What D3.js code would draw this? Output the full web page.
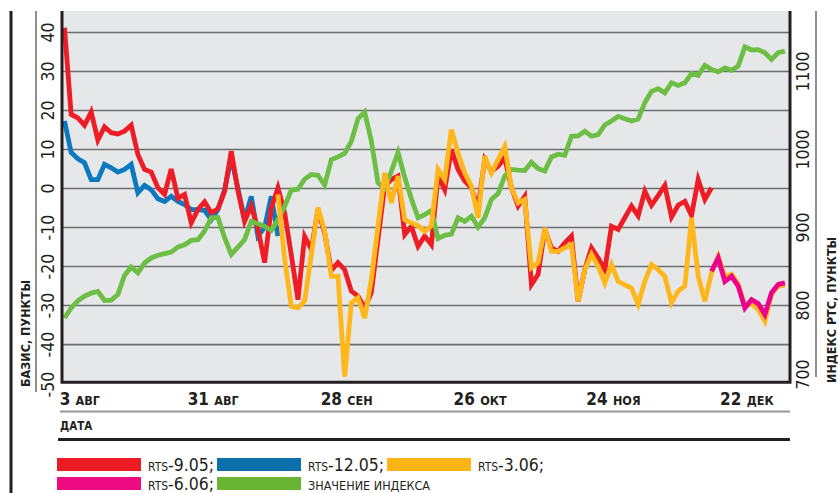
<!DOCTYPE html>
<html><head><meta charset="utf-8">
<script src="https://cdn.jsdelivr.net/npm/d3@7"></script>
<style>html,body{margin:0;padding:0;background:#fff;}svg{display:block}</style>
</head><body><svg id="c" width="838" height="493"></svg>
<script>
// ---- data ----
const tickIndex = [2, 22, 42, 62, 82, 102];
const tickDay = ["3", "31", "28", "26", "24", "22"];
const tickMonth = ["АВГ", "АВГ", "СЕН", "ОКТ", "НОЯ", "ДЕК"];
const leftTicks = [-50, -40, -30, -20, -10, 0, 10, 20, 30, 40];
const rightTicks = [700, 800, 900, 1000, 1100];

const rts905Start = 0;
const rts905 = [41.2, 19.0, 18.1, 16.2, 19.6, 12.4, 15.8, 14.3, 14.0, 14.7,
  16.2, 8.7, 4.9, 4.2, 0.2, -1.5, 5.0, -2.5, -1.5, -8.8,
  -5.4, -3.4, -6.2, -5.2, -0.7, 9.6, -0.5, -8.4, -4.5, -10.3,
  -19, -5, 0.2, -6.2, -17, -28.5, -12.3, -15.6, -5.4, -11.4,
  -21, -19, -20.8, -26.3, -27.6, -30.6, -26.7, -13, 0.6, 2.3,
  3.2, -11.8, -9.7, -14.8, -12.2, -14.4, 3.2, -0.3, 10, 4.9,
  1.9, 0.2, -4.9, 7.4, 4.4, 5.7, 7.9, 0.2, -4.5, -2,
  -24.6, -22, -10.5, -15.2, -16.1, -13.9, -12.2, -28.9, -20.8, -15.2,
  -17.8, -20.8, -9.7, -10.5, -7.5, -4.5, -7, -0.7, -4.3, -1.8,
  0.8, -7.3, -4.3, -3.3, -6.9, 2.3, -2.8, 0.2];

const rts1205Start = 0;
const rts1205 = [17.3, 9.2, 7.6, 6.6, 2.3, 2.3, 6.2, 5.3, 4.2, 4.9,
  6.2, -1.1, 0.8, -0.3, -2.6, -3.3, -2.0, -3.3, -4.1, -5.4,
  -5.4, -5.6, -8, -5.4, -0.3, 7.9, 0, -8, -2, -12.2,
  -10, -2, -12.2];

const rts306Start = 32;
const rts306 = [-1.5, -18, -30.2, -30.6, -28.8, -17, -4.9, -10.9, -22.5, -22.5,
  -48.2, -29.3, -28, -33.2, -23.3, -9.7, 4, -3.7, 3.2, -8,
  -8.8, -9.5, -11, -9.5, 4.9, 2.3, 15.1, 9.2, 4, 0.6,
  -7.5, 8.3, 4, 7.4, 10.8, 0.2, -3.7, -2.8, -20.3, -19,
  -10.1, -16.1, -16.1, -15.2, -14.4, -28.9, -20.8, -16.9, -19.9, -24.2,
  -19.5, -23.8, -24.7, -25.5, -29.7, -23.8, -19.5, -20.8, -22.5, -29.3,
  -26.3, -25, -7.5, -22.5, -28.9, -21.6, -17.4, -22.5, -22, -24.5,
  -30, -29.5, -31, -34, -27, -25, -24.8];

const rts606Start = 97;
const rts606 = [-21.2, -17.8, -23.8, -22.5, -25, -30.6, -28.5, -29.5, -32.3, -26.7, -24.6, -24.2];

const indexStart = 0;
const indexRTS = [784, 797, 806, 812, 816, 818, 806.5, 807, 814, 838.5,
  849.5, 842, 854.5, 861, 864.5, 866.5, 868.5, 875, 878, 883.5,
  884.5, 895.5, 912.5, 913, 887, 865.5, 875, 884.5, 908, 905,
  901.5, 896.5, 910, 927, 948, 949, 962, 968, 967, 954.5,
  987, 990.5, 995, 1010.5, 1039.5, 1048, 1011, 957.5, 950, 972,
  996, 964.5, 937, 912.5, 916.5, 922, 886, 890, 891.5, 912.5,
  908, 914.5, 900.5, 912.5, 936, 943.5, 966, 974.5, 973.5, 973,
  983.5, 975.5, 972.5, 990.5, 994, 992.5, 1017, 1017.5, 1023.5, 1017,
  1019, 1031.5, 1036.5, 1042.5, 1039.5, 1036.5, 1039, 1060, 1074.5, 1078,
  1072.5, 1085.5, 1082, 1085.5, 1097.5, 1095, 1108, 1102.5, 1099.5, 1104.5,
  1101.5, 1107, 1131.5, 1127.5, 1128, 1124, 1115.5, 1124, 1126];

const legendItems = [
  {pre: "RTS", txt: "-9.05;", color: "#ec1c24"},
  {pre: "RTS", txt: "-12.05;", color: "#0c6fab"},
  {pre: "RTS", txt: "-3.06;", color: "#fdb415"},
  {pre: "RTS", txt: "-6.06;", color: "#ec0b80"},
  {pre: "", txt: "ЗНАЧЕНИЕ ИНДЕКСА", color: "#69b533"}
];

// ---- drawing ----
const FONT = "'Liberation Sans Narrow','DejaVu Sans Condensed','Arial Narrow',sans-serif";
const INK = "#231f20";
const svg = d3.select("#c");
const L = 62, R = 790, T = 11, B = 383.6;

const x = d3.scaleLinear().domain([0, 108]).range([64.5, 784.9]);
const yL = d3.scaleLinear().domain([-50, 45.5]).range([B, T]);
const yR = d3.scaleLinear().domain([700, 1177.5]).range([B, T]);

// outer frame lines
svg.append("line").attr("x1", 11).attr("x2", 11).attr("y1", 11).attr("y2", 493)
  .attr("stroke", INK).attr("stroke-width", 3);
svg.append("line").attr("x1", 36).attr("x2", 36).attr("y1", 11).attr("y2", 392)
  .attr("stroke", INK).attr("stroke-width", 1);
svg.append("line").attr("x1", 816).attr("x2", 816).attr("y1", 11).attr("y2", 377)
  .attr("stroke", INK).attr("stroke-width", 1);

// plot background
svg.append("rect").attr("x", L).attr("y", T).attr("width", R - L).attr("height", B - T)
  .attr("fill", "#e6e7e8");

// gridlines
svg.append("g").selectAll("line").data(leftTicks.filter(d => d > -50)).join("line")
  .attr("x1", L).attr("x2", R)
  .attr("y1", d => yL(d)).attr("y2", d => yL(d))
  .attr("stroke", "#6d6e71").attr("stroke-width", 1.6);

// series
function series(vals, start) { return vals.map((v, k) => ({i: start + k, v})); }
const lineL = d3.line().x(d => x(d.i)).y(d => yL(d.v));
const lineR = d3.line().x(d => x(d.i)).y(d => yR(d.v));
const g = svg.append("g").attr("fill", "none").attr("stroke-width", 4.8).attr("stroke-linejoin", "miter");
g.append("path").attr("d", lineL(series(rts1205, rts1205Start))).attr("stroke", "#0b78bf");
g.append("path").attr("d", lineL(series(rts905, rts905Start))).attr("stroke", "#ee1c25");
g.append("path").attr("d", lineR(series(indexRTS, indexStart))).attr("stroke", "#6dbe45");
g.append("path").attr("d", lineL(series(rts306, rts306Start))).attr("stroke", "#ffb71b");
g.append("path").attr("d", lineL(series(rts606, rts606Start))).attr("stroke", "#ec008c");

// border
svg.append("path").attr("d", `M${L},${T}V382.3H${R}V${T}`).attr("fill", "none")
  .attr("stroke", INK).attr("stroke-width", 3);

// left tick labels
svg.append("g").selectAll("text").data(leftTicks).join("text")
  .attr("transform", d => `translate(48,${d === -50 ? yL(d) + 1 : yL(d)}) rotate(-90)`)
  .attr("text-anchor", "middle").attr("dy", "0.36em")
  .attr("font-family", FONT).attr("font-size", 17.5).attr("fill", INK)
  .text(d => d);

// right tick labels
svg.append("g").selectAll("text").data(rightTicks).join("text")
  .attr("transform", d => `translate(803,${d === 700 ? yR(d) - 9 : yR(d)}) rotate(-90)`)
  .attr("text-anchor", "middle").attr("dy", "0.36em")
  .attr("font-family", FONT).attr("font-size", 17.5).attr("fill", INK)
  .text(d => d);

// axis titles
svg.append("text").attr("transform", "translate(25,387) rotate(-90)")
  .attr("dy", "0.36em").attr("font-family", FONT).attr("font-weight", "bold")
  .attr("font-size", 12.5).attr("fill", INK).text("БАЗИС, ПУНКТЫ");
svg.append("text").attr("transform", "translate(831,383) rotate(-90)")
  .attr("dy", "0.36em").attr("font-family", FONT).attr("font-weight", "bold")
  .attr("font-size", 12.5).attr("fill", INK).text("ИНДЕКС РТС, ПУНКТЫ");

// x tick labels
const xt = svg.append("g").selectAll("text").data(tickIndex).join("text")
  .attr("x", d => x(d) + 2).attr("y", 405).attr("text-anchor", "middle")
  .attr("font-family", FONT).attr("font-weight", "bold").attr("fill", INK);
xt.append("tspan").attr("font-size", 17).text((d, k) => tickDay[k] + " ");
xt.append("tspan").attr("font-size", 12.5).text((d, k) => tickMonth[k]);

// date rule
svg.append("line").attr("x1", 60).attr("x2", R).attr("y1", 411.5).attr("y2", 411.5)
  .attr("stroke", "#939598").attr("stroke-width", 2);
svg.append("text").attr("x", 60).attr("y", 430).attr("font-family", FONT)
  .attr("font-weight", "bold").attr("font-size", 11.5).attr("fill", INK).text("ДАТА");
svg.append("line").attr("x1", 58).attr("x2", R).attr("y1", 439.5).attr("y2", 439.5)
  .attr("stroke", INK).attr("stroke-width", 3);

// legend
const legPos = [[57, 458, 471], [217, 458, 471], [387, 458, 471], [57, 477, 489.5], [217, 477, 489.5]];
legendItems.forEach((it, k) => {
  const [lx, ly, by] = legPos[k];
  svg.append("rect").attr("x", lx).attr("y", ly).attr("width", 84).attr("height", 13).attr("fill", it.color);
  const t = svg.append("text").attr("x", lx + 91).attr("y", by).attr("font-family", FONT).attr("fill", INK);
  if (it.pre) {
    t.append("tspan").attr("font-size", 12).text(it.pre);
    t.append("tspan").attr("font-size", 17.5).text(it.txt);
  } else {
    t.append("tspan").attr("font-size", 12.5).text(it.txt);
  }
});
</script></body></html>
